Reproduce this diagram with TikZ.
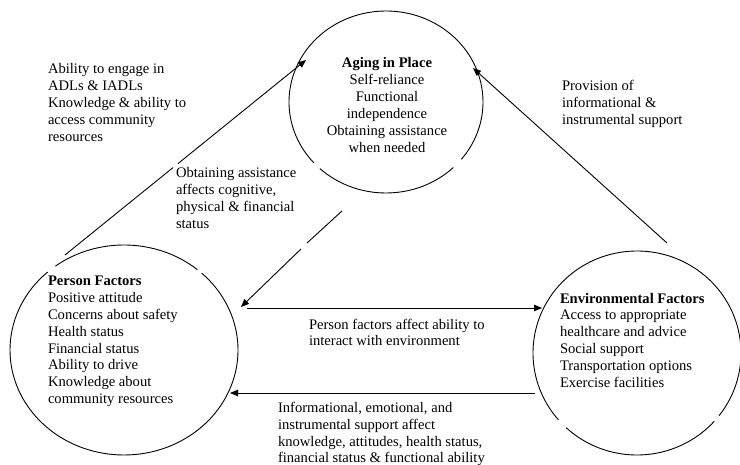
\documentclass[tikz,border=0pt]{standalone}
\usepackage{fontspec}
\setmainfont{Liberation Serif}
\usetikzlibrary{arrows.meta,shapes.geometric}
\begin{document}
\begin{tikzpicture}[x=1pt,y=1pt,
  txt/.style={inner sep=0pt,outer sep=0pt,align=left,font=\fontsize{14.6}{17}\selectfont},
  ctxt/.style={txt,align=center},
  ring/.style={draw=none,ellipse,inner sep=0pt},
  rim/.style={draw=black,line width=0.9pt},
  link/.style={draw=black,line width=0.9pt,-{Triangle[length=8pt,width=6.5pt]}},
  plain/.style={draw=black,line width=0.9pt}]
\useasboundingbox (0,0) rectangle (740,-465);

% the three circles
\node[ring,minimum width=194pt,minimum height=182pt] (aip) at (386,-102) {};
\node[ring,minimum width=228pt,minimum height=210pt] (person) at (124,-350) {};
\node[ring,minimum width=208pt,minimum height=204pt] (env) at (637,-353) {};

% outlines, with their small breaks
\draw[rim] (aip.center) ++(227:97 and 91) arc[start angle=227,end angle=314,x radius=97,y radius=91];
\draw[rim] (aip.center) ++(321:97 and 91) arc[start angle=321,end angle=582,x radius=97,y radius=91];
\draw[rim] (person.center) ++(50:114 and 105) arc[start angle=50,end angle=127,x radius=114,y radius=105];
\draw[rim] (person.center) ++(132:114 and 105) arc[start angle=132,end angle=407,x radius=114,y radius=105];
\draw[rim] (env.center) ++(227:104 and 102) arc[start angle=227,end angle=318,x radius=104,y radius=102];
\draw[rim] (env.center) ++(322:104 and 102) arc[start angle=322,end angle=581,x radius=104,y radius=102];

% connector ends and breaks
\coordinate (pOut) at (65,-255);
\coordinate (pBrk1) at (173,-167.6);
\coordinate (pBrk2) at (178,-163.6);
\coordinate (aIn1) at (306,-60);
\coordinate (eOut) at (667,-243);
\coordinate (aIn2) at (473,-68);
\coordinate (aOut) at (342,-211);
\coordinate (aBrk1) at (307,-243);
\coordinate (aBrk2) at (301,-249);
\coordinate (pIn1) at (241,-307);
\coordinate (pOut2) at (247,-308);
\coordinate (eIn) at (542,-308);
\coordinate (eOut2) at (535,-393);
\coordinate (pIn2) at (230,-393);

\draw[plain] (pOut) -- (pBrk1);
\draw[link] (pBrk2) -- (aIn1);
\draw[link] (eOut) -- (aIn2);
\draw[plain] (aOut) -- (aBrk1);
\draw[link] (aBrk2) -- (pIn1);
\draw[link] (pOut2) -- (eIn);
\draw[link] (eOut2) -- (pIn2);

% circle contents (anchored at the baseline of the last line)
\node[ctxt,anchor=base] (aiptext) at (387,-153)
  {\textbf{Aging in Place}\\Self-reliance\\Functional\\independence\\Obtaining assistance\\when needed};
\node[txt,anchor=base west] (persontext) at (48,-404)
  {\textbf{Person Factors}\\Positive attitude\\Concerns about safety\\Health status\\Financial status\\Ability to drive\\Knowledge about\\community resources};
\node[txt,anchor=base west] (envtext) at (560,-388)
  {\textbf{Environmental Factors}\\Access to appropriate\\healthcare and advice\\Social support\\Transportation options\\Exercise facilities};

% connector labels
\node[txt,anchor=base west] (lblA) at (48,-142)
  {Ability to engage in\\ADLs \& IADLs\\Knowledge \& ability to\\access community\\resources};
\node[txt,anchor=base west] (lblB) at (176,-229)
  {Obtaining assistance\\affects cognitive,\\physical \& financial\\status};
\node[txt,anchor=base west] (lblC) at (562,-125)
  {Provision of\\informational \&\\instrumental support};
\node[txt,anchor=base west] (lblD) at (309,-346)
  {Person factors affect ability to\\interact with environment};
\node[txt,anchor=base west] (lblE) at (278,-463)
  {Informational, emotional, and\\instrumental support affect\\knowledge, attitudes, health status,\\financial status \& functional ability};
\end{tikzpicture}
\end{document}
